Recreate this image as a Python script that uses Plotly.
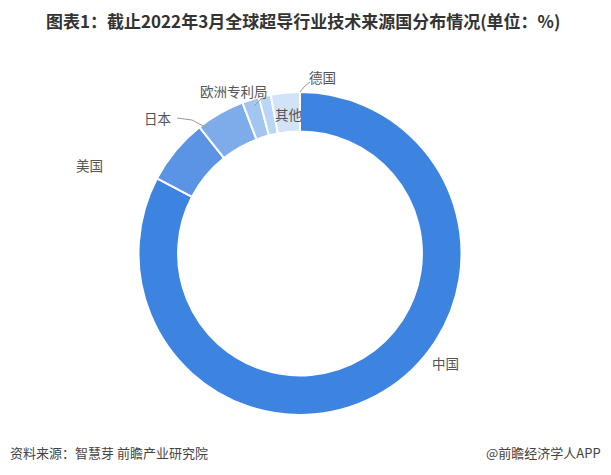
import plotly.graph_objects as go

# 数据（单位：%），按图中顺序，从12点方向顺时针
labels = ["中国", "美国", "日本", "欧洲专利局", "德国", "其他"]
values = [82.7, 6.6, 4.9, 1.7, 1.2, 2.9]
colors = ["#3d84e0", "#5b94e4", "#7eaceb", "#a3c5f2", "#bbd5f5", "#d2e3f8"]

W, H = 611, 475
OFF = 8  # 页面 body 的默认边距


def px(x, y):
    # 截图像素 -> paper 坐标
    return (x - OFF) / W, 1 - (y - OFF) / H


fig = go.Figure()

cx, cy, r = 300 - OFF, 253.5 - OFF, 161.5
fig.add_trace(go.Pie(
    labels=labels,
    values=values,
    hole=0.755,
    sort=False,
    direction="clockwise",
    rotation=0,
    textinfo="none",
    hoverinfo="label+value",
    marker=dict(colors=colors, line=dict(color="white", width=2)),
    domain=dict(x=[(cx - r) / W, (cx + r) / W], y=[1 - (cy + r) / H, 1 - (cy - r) / H]),
    showlegend=False,
))

# 标签位置（像素）
label_pos = {
    "中国": (445, 363),
    "美国": (89, 165),
    "日本": (158, 118),
    "欧洲专利局": (234, 91),
    "德国": (322, 77),
    "其他": (288, 114),
}
for name in labels:
    x, y = px(*label_pos[name])
    fig.add_annotation(x=x, y=y, xref="paper", yref="paper", text=name,
                       xanchor="center", yanchor="middle",
                       showarrow=False, font=dict(size=13.5, color="#555555"))

# 引导线
lines = [
    ((177, 118), (192, 120), (207, 128)),
    ((262, 98), (258, 102), (254, 106)),
    ((310, 82), (304, 87), (300, 92)),
]
for pts in lines:
    for (x0, y0), (x1, y1) in zip(pts[:-1], pts[1:]):
        a0, b0 = px(x0, y0)
        a1, b1 = px(x1, y1)
        fig.add_shape(type="line", xref="paper", yref="paper", x0=a0, y0=b0, x1=a1, y1=b1,
                      line=dict(color="#999999", width=1))

# 标题与来源
tx, ty = px(303, 20)
fig.add_annotation(x=tx, y=ty, xref="paper", yref="paper", xanchor="center", yanchor="middle",
                   text="<b>图表1：截止2022年3月全球超导行业技术来源国分布情况(单位：%)</b>",
                   showarrow=False, font=dict(size=17, color="#333333"))
sx, sy = px(8, 452)
fig.add_annotation(x=sx, y=sy, xref="paper", yref="paper", xanchor="left", yanchor="middle",
                   text="资料来源：智慧芽 前瞻产业研究院", showarrow=False,
                   font=dict(size=13, color="#444444"))
rx, ry = px(603, 452)
fig.add_annotation(x=rx, y=ry, xref="paper", yref="paper", xanchor="right", yanchor="middle",
                   text="@前瞻经济学人APP", showarrow=False,
                   font=dict(size=13, color="#444444"))

fig.update_layout(
    width=W, height=H,
    margin=dict(l=0, r=0, t=0, b=0),
    paper_bgcolor="white",
    font=dict(family="Noto Sans CJK SC, sans-serif"),
)

fig.write_html("out.html")
